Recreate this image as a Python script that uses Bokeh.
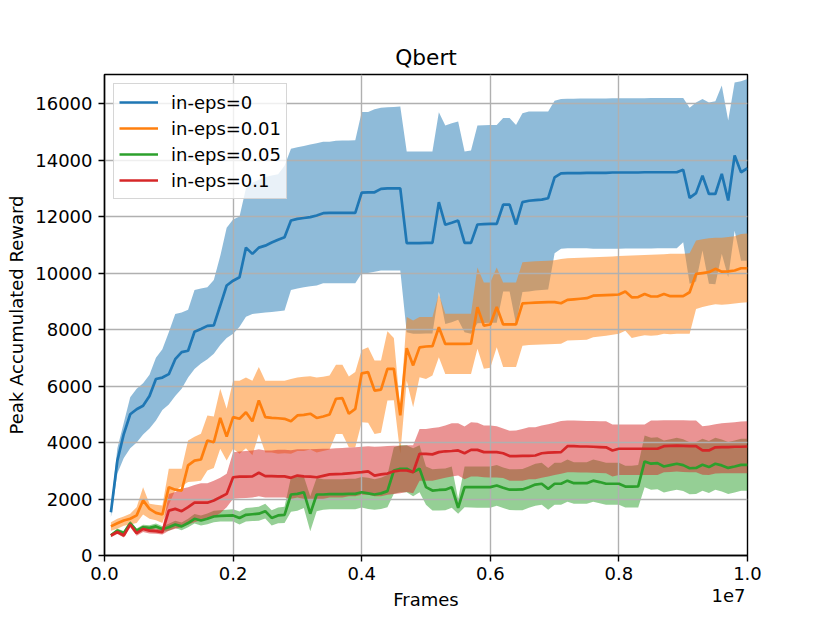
from bokeh.plotting import figure
from bokeh.models import Range1d, FixedTicker, Legend, LegendItem, Title
from bokeh.embed import file_html
from bokeh.resources import INLINE

# x sampling: every 1e5 frames from 1e5 to 1e7
frames = [i * 100000 for i in range(1, 101)]

series_labels = ["in-eps=0", "in-eps=0.01", "in-eps=0.05", "in-eps=0.1"]
colors = ["#1f77b4", "#ff7f0e", "#2ca02c", "#d62728"]

# in-eps=0
blue_mean = [1530, 3360, 4300, 5000, 5180, 5300, 5650, 6250, 6300, 6420,
             6950, 7200, 7250, 7920, 8020, 8130, 8150, 8850, 9560, 9730,
             9850, 10900, 10680, 10900, 10970, 11080, 11180, 11270, 11860, 11920,
             11950, 11980, 12040, 12120, 12130, 12130, 12130, 12130, 12130, 12850,
             12860, 12860, 12980, 13000, 13000, 13000, 11060, 11060, 11060, 11070,
             11070, 12510, 11710, 11780, 11860, 11070, 11070, 11720, 11730, 11740,
             11740, 12420, 12420, 11720, 12510, 12560, 12580, 12600, 12650, 13390,
             13530, 13540, 13540, 13540, 13550, 13550, 13550, 13550, 13560, 13560,
             13560, 13560, 13560, 13570, 13570, 13570, 13570, 13570, 13570, 13660,
             12660, 12830, 13450, 12800, 12800, 13510, 12570, 14160, 13570, 13710]
blue_hi = [1700, 3800, 4700, 5600, 5900, 6100, 6400, 7000, 7300, 7900,
           8550, 8600, 8700, 9400, 9450, 9500, 9750, 10600, 11600, 11900,
           12000, 13000, 13200, 13300, 13400, 13450, 13500, 13800, 14400, 14450,
           14500, 14550, 14600, 14650, 14650, 14680, 14690, 14690, 14700, 15700,
           15700, 15800, 15850, 15870, 15880, 15900, 14300, 14300, 14300, 14300,
           14300, 15690, 15220, 15300, 15370, 14300, 14340, 15220, 15230, 15240,
           15240, 15490, 15490, 15240, 15660, 15720, 15720, 15720, 15720, 16100,
           16160, 16170, 16170, 16180, 16180, 16180, 16180, 16180, 16190, 16190,
           16190, 16190, 16190, 16190, 16200, 16200, 16200, 16200, 16200, 16200,
           15850, 16040, 16160, 16040, 16080, 16640, 15400, 16750, 16790, 16870]
blue_lo = [1350, 2900, 3450, 3800, 4000, 4280, 4500, 4780, 5150, 5350,
           5650, 5900, 6300, 6600, 6800, 6950, 7140, 7450, 7700, 7850,
           8100, 8450, 8550, 8580, 8600, 8620, 8650, 8670, 9400, 9450,
           9500, 9530, 9560, 9640, 9640, 9640, 9640, 9640, 9640, 9990,
           10000, 10050, 10090, 10090, 10090, 10090, 7900, 7850, 7850, 7860,
           7860, 9330, 8200, 8260, 8350, 7900, 7850, 8220, 8230, 8240,
           8240, 9350, 9350, 8200, 9330, 9350, 9380, 9400, 9420, 10700,
           10860, 10880, 10880, 10880, 10880, 10860, 10860, 10860, 10860, 10860,
           10870, 10870, 10870, 10870, 10870, 10880, 10880, 10880, 10880, 11090,
           9620, 9700, 10800, 9620, 9600, 10680, 9850, 11500, 10440, 10440]

# in-eps=0.01
orange_mean = [1030, 1140, 1240, 1300, 1420, 1950, 1650, 1510, 1450, 2420,
               2330, 2300, 3190, 3360, 3400, 4070, 4010, 4870, 4210, 4900,
               4840, 5070, 4750, 5490, 4900, 4870, 4860, 4840, 4750, 4960,
               4980, 5020, 4870, 4920, 4990, 5550, 5570, 5020, 5190, 6450,
               6490, 5840, 5870, 6610, 6610, 4960, 7340, 6730, 7370, 7400,
               7410, 8080, 7490, 7490, 7490, 7490, 7500, 8790, 8140, 8180,
               8800, 8180, 8180, 8180, 8930, 8940, 8950, 8960, 8970, 8970,
               8930, 9050, 9070, 9090, 9110, 9200, 9210, 9220, 9230, 9240,
               9350, 9140, 9150, 9260, 9170, 9170, 9260, 9180, 9180, 9180,
               9320, 9970, 10000, 10030, 10150, 10050, 10060, 10090, 10170, 10170]
orange_hi = [1180, 1300, 1380, 1480, 1710, 2420, 1830, 1800, 1770, 3070,
             3070, 3070, 4070, 4200, 4310, 4960, 4920, 5900, 5200, 6190,
             6190, 6300, 6190, 6670, 6190, 6190, 6190, 6190, 6250, 6300,
             6330, 6350, 6300, 6330, 6370, 6750, 6750, 6340, 6500, 7280,
             7370, 6900, 6900, 7940, 7700, 5200, 8440, 8320, 8440, 8440,
             8440, 9260, 8560, 8560, 8560, 8560, 8560, 10200, 9670, 9670,
             10200, 9670, 9670, 9670, 10380, 10400, 10420, 10430, 10440, 10450,
             10500, 10520, 10530, 10540, 10550, 10560, 10570, 10580, 10590, 10600,
             10610, 10620, 10630, 10640, 10650, 10660, 10670, 10680, 10680, 10680,
             10700, 11150, 11200, 11230, 11250, 11250, 11280, 11300, 11380, 11400]
orange_lo = [880, 950, 1050, 1100, 1150, 1450, 1300, 1250, 1150, 1800,
             2300, 2450, 2600, 2620, 2650, 3010, 3100, 3780, 3360, 3780,
             3600, 3800, 3550, 4300, 3650, 3650, 3600, 3620, 3600, 3700,
             3700, 3750, 3650, 3700, 3750, 4300, 4300, 3830, 3830, 4720,
             4700, 4300, 4350, 5490, 5500, 3600, 6190, 5250, 6310, 6250,
             6370, 7020, 6430, 6430, 6430, 6430, 6430, 7320, 6610, 6650,
             7370, 6670, 6670, 6670, 7430, 7450, 7460, 7470, 7480, 7490,
             7500, 7610, 7620, 7630, 7640, 7730, 7750, 7780, 7820, 7850,
             7960, 7700, 7750, 7800, 7780, 7800, 7850, 7830, 7850, 7850,
             7850, 8730, 8800, 8850, 8900, 8880, 8900, 8920, 8950, 8970]

# in-eps=0.05
green_mean = [710, 880, 800, 1140, 880, 1000, 980, 1030, 940, 1000,
              1100, 1030, 1150, 1300, 1240, 1300, 1380, 1400, 1410, 1420,
              1330, 1440, 1460, 1480, 1570, 1330, 1420, 1440, 2160, 2180,
              2240, 1480, 2160, 2160, 2170, 2170, 2170, 2180, 2180, 2240,
              2200, 2160, 2200, 2280, 3010, 3070, 3070, 2950, 3070, 2420,
              2300, 2320, 2330, 2420, 1690, 2420, 2420, 2420, 2420, 2420,
              2480, 2400, 2330, 2330, 2340, 2420, 2510, 2540, 2360, 2540,
              2540, 2650, 2560, 2560, 2560, 2650, 2600, 2540, 2540, 2540,
              2440, 2440, 2450, 3330, 3250, 3270, 3150, 3200, 3250, 3200,
              3090, 3100, 3210, 3130, 3250, 3190, 3100, 3150, 3210, 3210]
green_hi = [760, 950, 870, 1220, 960, 1090, 1070, 1130, 1040, 1120,
            1230, 1170, 1300, 1470, 1420, 1490, 1580, 1600, 1620, 1640,
            1560, 1680, 1700, 1730, 1830, 1600, 1700, 1730, 2770, 2780,
            2800, 2100, 2750, 2700, 2700, 2700, 2700, 2720, 2720, 2780,
            2750, 2700, 2750, 2850, 3830, 3900, 3900, 3800, 3900, 3150,
            3050, 3070, 3080, 3150, 2000, 3150, 3150, 3150, 3150, 3150,
            3200, 3120, 3050, 3050, 3060, 3150, 3250, 3280, 3100, 3280,
            3280, 3400, 3300, 3300, 3300, 3400, 3350, 3280, 3280, 3280,
            3180, 3180, 3200, 4250, 4170, 4190, 4070, 4120, 4170, 4120,
            4010, 4020, 4130, 4050, 4170, 4110, 4020, 4070, 4130, 4130]
green_lo = [660, 810, 730, 1060, 800, 910, 890, 930, 840, 880,
            970, 890, 1000, 1130, 1060, 1110, 1180, 1200, 1200, 1200,
            1100, 1200, 1220, 1230, 1310, 1060, 1140, 1150, 1550, 1580,
            1680, 860, 1570, 1620, 1640, 1640, 1640, 1640, 1640, 1700,
            1650, 1620, 1650, 1710, 2190, 2240, 2240, 2100, 2240, 1800,
            1590, 1590, 1600, 1690, 1480, 1710, 1700, 1690, 1690, 1690,
            1760, 1680, 1610, 1600, 1600, 1690, 1760, 1800, 1620, 1800,
            1800, 1900, 1830, 1830, 1830, 1900, 1850, 1800, 1800, 1800,
            1700, 1700, 1700, 2420, 2330, 2350, 2230, 2280, 2330, 2280,
            2170, 2180, 2290, 2210, 2330, 2270, 2180, 2230, 2290, 2290]

# in-eps=0.1
red_mean = [710, 830, 710, 1100, 790, 940, 880, 860, 830, 1590,
            1650, 1570, 1710, 1870, 1870, 1870, 1950, 2060, 2180, 2770,
            2790, 2790, 2800, 2930, 2810, 2810, 2800, 2800, 2750, 2830,
            2800, 2790, 2770, 2820, 2870, 2880, 2890, 2910, 2930, 2950,
            2980, 2830, 2870, 2900, 2980, 3010, 3010, 2950, 3600, 3600,
            3580, 3660, 3690, 3700, 3720, 3620, 3740, 3740, 3660, 3660,
            3660, 3620, 3520, 3520, 3530, 3530, 3540, 3620, 3640, 3650,
            3660, 3870, 3870, 3860, 3860, 3850, 3840, 3830, 3720, 3780,
            3780, 3780, 3780, 3780, 3780, 3780, 3870, 3880, 3890, 3880,
            3870, 3870, 3720, 3720, 3830, 3840, 3840, 3850, 3850, 3860]
red_hi = [770, 900, 800, 1200, 900, 1050, 1000, 950, 950, 2180,
          2250, 2360, 2420, 2500, 2560, 2560, 2650, 2750, 2890, 3660,
          3680, 3700, 3720, 3760, 3720, 3720, 3740, 3740, 3730, 3760,
          3760, 3760, 3770, 3780, 3780, 3800, 3810, 3820, 3830, 3850,
          3870, 3850, 3860, 3880, 3890, 3890, 3900, 3900, 4480, 4480,
          4510, 4540, 4600, 4680, 4680, 4570, 4720, 4700, 4600, 4600,
          4580, 4500, 4420, 4430, 4480, 4540, 4540, 4600, 4650, 4700,
          4760, 4780, 4780, 4770, 4760, 4760, 4750, 4750, 4640, 4640,
          4640, 4640, 4640, 4640, 4780, 4780, 4790, 4790, 4790, 4790,
          4780, 4780, 4580, 4600, 4650, 4680, 4700, 4720, 4740, 4750]
red_lo = [650, 760, 640, 1000, 700, 830, 780, 770, 740, 880,
          950, 1000, 1100, 1180, 1250, 1300, 1360, 1500, 1710, 2010,
          2030, 2040, 2050, 2100, 2050, 2050, 2050, 2050, 2000, 2050,
          2000, 1980, 1980, 2000, 2050, 2050, 2050, 2100, 2100, 2150,
          2150, 2100, 2100, 2150, 2180, 2200, 2250, 2200, 2650, 2650,
          2650, 2700, 2750, 2800, 2830, 2700, 2800, 2800, 2770, 2760,
          2760, 2740, 2650, 2650, 2650, 2700, 2700, 2750, 2800, 2850,
          2890, 2950, 2950, 2940, 2940, 2930, 2920, 2910, 2800, 2850,
          2850, 2850, 2850, 2850, 2850, 2850, 2950, 2960, 2970, 2960,
          2950, 2950, 2860, 2850, 2900, 2910, 2910, 2910, 2910, 2910]

x_ticks = [0, 2000000, 4000000, 6000000, 8000000, 10000000]
x_tick_labels = ["0.0", "0.2", "0.4", "0.6", "0.8", "1.0"]
x_offset_text = "1e7"
y_ticks = [0, 2000, 4000, 6000, 8000, 10000, 12000, 14000, 16000]
y_tick_labels = [str(v) for v in y_ticks]

FONT = "DejaVu Sans"

p = figure(width=814, height=618, output_backend="svg", toolbar_location=None,
           x_range=Range1d(0, 1e7), y_range=Range1d(0, 17030),
           min_border_left=104, min_border_right=67, min_border_top=74,
           min_border_bottom=63, title="Qbert")
p.background_fill_color = "white"
p.border_fill_color = "white"
p.outline_line_color = "black"
p.outline_line_width = 1.4
p.outline_line_alpha = 1.0

p.title.align = "center"
p.title.text_font = FONT
p.title.text_font_size = "21.7px"
p.title.text_font_style = "normal"
p.title.text_color = "black"

p.xaxis.ticker = FixedTicker(ticks=x_ticks)
p.xaxis.major_label_overrides = {t: l for t, l in zip(x_ticks, x_tick_labels)}
p.yaxis.ticker = FixedTicker(ticks=y_ticks)
p.yaxis.major_label_overrides = {t: l for t, l in zip(y_ticks, y_tick_labels)}
p.xaxis.axis_label = "Frames"
p.yaxis.axis_label = "Peak Accumulated Reward"
for ax in (p.xaxis[0], p.yaxis[0]):
    ax.axis_line_width = 1.4
    ax.axis_line_color = "black"
    ax.major_tick_line_width = 1.4
    ax.major_tick_line_color = "black"
    ax.major_tick_out = 6
    ax.major_tick_in = 0
    ax.minor_tick_line_color = None
    ax.major_label_text_font = FONT
    ax.major_label_text_font_size = "18px"
    ax.major_label_text_color = "black"
    ax.axis_label_text_font = FONT
    ax.axis_label_text_font_size = "18px"
    ax.axis_label_text_font_style = "normal"
    ax.axis_label_text_color = "black"
p.xaxis.major_label_standoff = 5
p.yaxis.major_label_standoff = 6
p.xaxis.axis_label_standoff = 6
p.yaxis.axis_label_standoff = 5

p.grid.grid_line_color = "#b0b0b0"
p.grid.grid_line_width = 1.4

bands = [(blue_lo, blue_hi), (orange_lo, orange_hi), (green_lo, green_hi), (red_lo, red_hi)]
means = [blue_mean, orange_mean, green_mean, red_mean]

for (lo, hi), c in zip(bands, colors):
    p.varea(x=frames, y1=lo, y2=hi, fill_color=c, fill_alpha=0.5, level="image")

line_renderers = []
for m, c in zip(means, colors):
    r = p.line(x=frames, y=m, line_color=c, line_width=2.7)
    line_renderers.append(r)

legend = Legend(items=[LegendItem(label=lab, renderers=[r])
                       for lab, r in zip(series_labels, line_renderers)],
                location="top_left")
legend.label_text_font = FONT
legend.label_text_font_size = "18px"
legend.label_text_color = "black"
legend.glyph_width = 39
legend.glyph_height = 26
legend.label_height = 26
legend.label_standoff = 13
legend.spacing = 0
legend.padding = 5
legend.margin = 9
legend.border_line_color = "#cccccc"
legend.border_line_width = 1.4
legend.border_line_alpha = 0.8
legend.background_fill_color = "white"
legend.background_fill_alpha = 0.8
p.add_layout(legend)

# scale offset text "1e7" under the right end of the x axis
offset_title = Title(text=x_offset_text, align="right", offset=2,
                     vertical_align="top", standoff=-48,
                     text_font=FONT, text_font_size="18px",
                     text_font_style="normal", text_color="black")
p.add_layout(offset_title, "below")

open("out.html", "w").write(file_html(p, INLINE))
